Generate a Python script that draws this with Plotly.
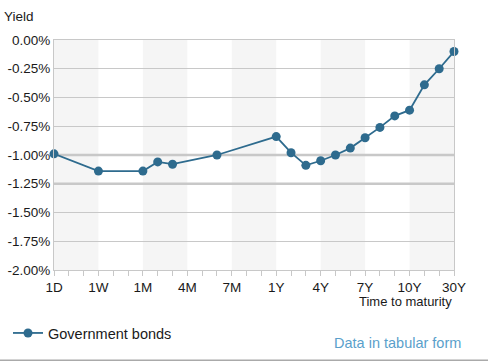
import plotly.graph_objects as go

# Maturity grid (axis categories, evenly spaced)
maturity_grid = ["1D", "2D", "3D", "1W", "2W", "3W", "1M", "2M", "3M", "4M", "5M", "6M",
                 "7M", "8M", "9M", "1Y", "2Y", "3Y", "4Y", "5Y", "6Y", "7Y", "8Y", "9Y",
                 "10Y", "15Y", "20Y", "30Y"]
tick_labels = ["1D", "1W", "1M", "4M", "7M", "1Y", "4Y", "7Y", "10Y", "30Y"]

# Series
maturities = ["1D", "1W", "1M", "2M", "3M", "6M", "1Y", "2Y", "3Y", "4Y", "5Y", "6Y",
              "7Y", "8Y", "9Y", "10Y", "15Y", "20Y", "30Y"]
yields = [-0.99, -1.14, -1.14, -1.06, -1.08, -1.00, -0.84, -0.98, -1.09, -1.05, -1.00,
          -0.94, -0.85, -0.76, -0.66, -0.61, -0.39, -0.25, -0.10]
y_ticks = [0.0, -0.25, -0.5, -0.75, -1.0, -1.25, -1.5, -1.75, -2.0]

x_idx = [maturity_grid.index(m) for m in maturities]
tick_idx = [maturity_grid.index(t) for t in tick_labels]

FONT = "Liberation Sans, Arial, sans-serif"
LINE = "#2e6b8e"
TXT = "#1a1a1a"

fig = go.Figure()
fig.add_trace(go.Scatter(
    x=x_idx, y=yields, mode="lines+markers", name="Government bonds",
    line=dict(color=LINE, width=1.8),
    marker=dict(color=LINE, size=9, symbol="circle"),
    cliponaxis=False,
))

shapes = []
# alternating bands
for k in range(0, len(tick_idx) - 1, 2):
    shapes.append(dict(type="rect", xref="x", yref="paper", x0=tick_idx[k], x1=tick_idx[k + 1],
                       y0=0, y1=1, fillcolor="#f5f5f5", line=dict(width=0), layer="below"))
# emphasised grid lines
for yv in (-1.0, -1.25):
    shapes.append(dict(type="line", xref="paper", yref="y", x0=0, x1=1, y0=yv, y1=yv,
                       line=dict(color="#c8c8c8", width=2.5), layer="below"))
# bottom separator
shapes.append(dict(type="line", xref="paper", yref="paper", x0=-0.135, x1=1.085,
                   y0=-0.3935, y1=-0.3935, line=dict(color="#aaaaaa", width=2)))

step = tick_idx[1] - tick_idx[0]
fig.update_layout(
    width=488, height=361,
    margin=dict(l=54, r=34, t=40, b=91, autoexpand=False),
    paper_bgcolor="white", plot_bgcolor="white",
    font=dict(family=FONT, size=13, color=TXT),
    shapes=shapes,
    showlegend=True,
    legend=dict(x=-0.115, xanchor="left", y=-0.274, yanchor="middle",
                orientation="h", font=dict(size=14.5, color=TXT),
                bgcolor="rgba(0,0,0,0)"),
    xaxis=dict(
        range=[0, len(maturity_grid) - 1], tickmode="linear", tick0=0, dtick=step,
        labelalias={str(i): t for i, t in zip(tick_idx, tick_labels)},
        showgrid=False, zeroline=False, automargin=False,
        showline=True, linecolor="#c8c8c8", linewidth=1, mirror=True,
        ticks="outside", ticklen=5, tickcolor="#c8c8c8",
        minor=dict(dtick=1, tick0=0, ticks="outside", ticklen=5, tickcolor="#c8c8c8",
                   showgrid=False),
        tickfont=dict(size=13.5, color=TXT),
    ),
    yaxis=dict(
        range=[-2, 0], tickmode="array", tickvals=y_ticks,
        ticktext=[f"{v:.2f}%" for v in y_ticks], automargin=False,
        showgrid=True, gridcolor="#c8c8c8", gridwidth=1, zeroline=False,
        showline=True, linecolor="#c8c8c8", linewidth=1, mirror=True,
        ticks="", tickfont=dict(size=13.5, color=TXT),
    ),
    annotations=[
        dict(text="Yield", xref="paper", yref="paper", x=-0.13, y=1.1,
             xanchor="left", yanchor="middle", showarrow=False,
             font=dict(size=13.5, color=TXT)),
        dict(text="Time to maturity", xref="paper", yref="paper", x=1.0, y=-0.138,
             xanchor="right", yanchor="middle", showarrow=False,
             font=dict(size=13, color=TXT)),
        dict(text="Data in tabular form", xref="paper", yref="paper", x=1.0225, y=-0.317,
             xanchor="right", yanchor="middle", showarrow=False,
             font=dict(size=14.5, color="#5a9fcb")),
    ],
)

fig.write_html("out.html", config={"displayModeBar": False},
               post_script="document.body.style.margin='0';")
